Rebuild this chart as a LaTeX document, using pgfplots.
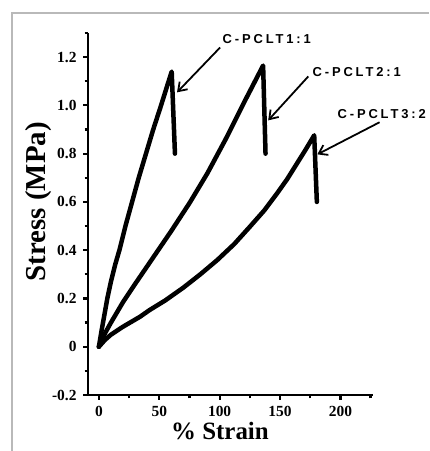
\documentclass[border=0pt]{standalone}
\usepackage{fontspec}
\setmainfont{Liberation Serif}
\newfontfamily\lblfont[LetterSpace=22]{Liberation Sans}
\usepackage{pgfplots}
\pgfplotsset{compat=1.18}
\usetikzlibrary{arrows.meta}
\begin{document}
\begin{tikzpicture}[x=1bp,y=1bp]
\useasboundingbox (0,0) rectangle (429,451);
\draw[gray!55, line width=1.2bp] (12,0) -- (12,438) -- (429,438);
\begin{axis}[
  at={(88bp,56bp)}, anchor=south west,
  width=285bp, height=362bp, scale only axis,
  xmin=-9, xmax=227, ymin=-0.2, ymax=1.3,
  axis lines*=left,
  axis line style={line width=2.8bp},
  xtick={0,50,100,150,200}, minor xtick={25,75,125,175,225},
  ytick={-0.2,0,0.2,0.4,0.6,0.8,1.0,1.2},
  yticklabels={-0.2,0,0.2,0.4,0.6,0.8,1.0,1.2},
  xticklabels={0,50,100,150,200},
  minor ytick={-0.1,0.1,0.3,0.5,0.7,0.9,1.1,1.3},
  tick align=outside, major tick length=5bp, minor tick length=3.5bp,
  tick style={line width=2.2bp, black},
  ticklabel style={font=\bfseries\fontsize{15.5}{15.5}\selectfont},
  xticklabel style={inner sep=0pt, yshift=-6.5bp},
  yticklabel style={xshift=-3bp},
  xlabel={\% Strain}, ylabel={Stress (MPa)},
  xlabel style={font=\bfseries\fontsize{25}{25}\selectfont, inner sep=0pt, at={(axis description cs:0.463,-0.0994)}, anchor=center},
  ylabel style={font=\bfseries\fontsize{29}{29}\selectfont, at={(axis description cs:-0.172,0.534)}, anchor=center},
  clip=false,
]
\addplot[black, line width=4.5bp, line join=round, line cap=round] coordinates {
 (0,0) (2,0.06) (4.5,0.13) (7,0.2) (10,0.27) (13.5,0.34) (17,0.4) (22,0.5) (27.5,0.6) (33,0.7) (39,0.8) (45,0.9) (51.5,1.0) (56.5,1.08) (60.3,1.14) (63,0.80)};
\addplot[black, line width=4.5bp, line join=round, line cap=round] coordinates {
 (0,0) (5,0.055) (10,0.10) (20,0.185) (30,0.26) (45,0.37) (60,0.48) (75,0.595) (90,0.72) (105,0.86) (120,1.01) (136,1.165) (138,0.80)};
\addplot[black, line width=4.5bp, line join=round, line cap=round] coordinates {
 (0,0) (5,0.028) (10,0.05) (20,0.083) (34,0.124) (42,0.152) (55,0.192) (70,0.245) (84,0.30) (98,0.359) (112,0.425) (125,0.497) (137,0.565) (147.5,0.635) (156,0.695) (164,0.759) (171,0.815) (178.3,0.876) (180.5,0.60)};
\draw[line width=1.8bp, -{Straight Barb[length=8bp,width=11bp]}] (axis cs:100.4,1.240) -- (axis cs:64.7,1.054);
\draw[line width=1.8bp, -{Straight Barb[length=8bp,width=11bp]}] (axis cs:173.4,1.12) -- (axis cs:140.2,0.938);
\draw[line width=1.8bp, -{Straight Barb[length=8bp,width=11bp]}] (axis cs:232.4,0.930) -- (axis cs:180.9,0.797);
\node[font=\lblfont\bfseries\fontsize{13}{13}\selectfont] at (axis cs:139,1.273) {C-PCLT1:1};
\node[font=\lblfont\bfseries\fontsize{13}{13}\selectfont] at (axis cs:213.5,1.138) {C-PCLT2:1};
\node[font=\lblfont\bfseries\fontsize{13}{13}\selectfont] at (axis cs:234.2,0.966) {C-PCLT3:2};
\end{axis}
\end{tikzpicture}
\end{document}
